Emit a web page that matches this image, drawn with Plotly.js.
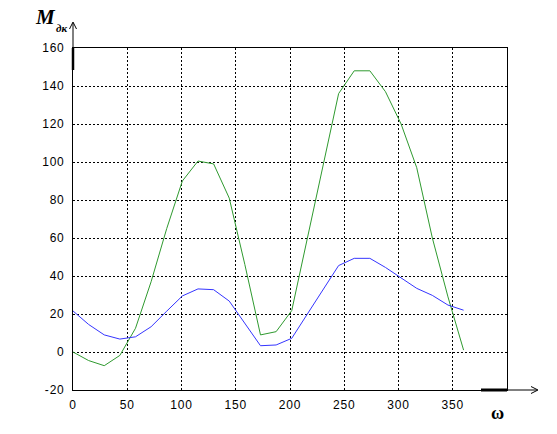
<!DOCTYPE html>
<html>
<head>
<meta charset="utf-8">
<script src="https://cdn.plot.ly/plotly-3.0.1.min.js"></script>
<style>
html,body{margin:0;padding:0;background:#fff;}
#chart{width:557px;height:434px;}
#chart .xtick text, #chart .ytick text{letter-spacing:0.8px;}
</style>
</head>
<body>
<div id="chart"></div>
<script>
// Angle values (ω)
const omega = [0, 14.4, 28.8, 43.2, 57.6, 72, 86.4, 100.8, 115.2, 129.6, 144, 158.4, 172.8,
               187.2, 201.6, 216, 230.4, 244.8, 259.2, 273.6, 288, 302.4, 316.8, 331.2, 345.6, 360];
// Green series
const greenSeries = [0, -4.5, -7.2, -1.8, 12.5, 37, 65, 90, 100.5, 99, 81, 46, 9,
                     10.7, 21.8, 60, 99, 136, 148, 148, 137, 120, 97, 60, 29, 1];
// Blue series
const blueSeries = [21.6, 14.5, 9, 6.8, 8, 13.3, 21.5, 29.5, 33.2, 32.8, 26.8, 15, 3.3,
                    3.7, 7.2, 20, 32.6, 45.5, 49.3, 49.3, 44.5, 39, 33.5, 29.8, 24.7, 22];
const xTicks = [0, 50, 100, 150, 200, 250, 300, 350];
const yTicks = [-20, 0, 20, 40, 60, 80, 100, 120, 140, 160];

const W = 557, H = 434, L = 73, R = 507, T = 48, B = 390;
const px = x => (x - L) / (R - L);
const py = y => (B - y) / (B - T);

const traces = [
  {x: omega, y: greenSeries, type: 'scatter', mode: 'lines',
   line: {color: '#2f9a2f', width: 1}, hoverinfo: 'skip'},
  {x: omega, y: blueSeries, type: 'scatter', mode: 'lines',
   line: {color: '#3535ff', width: 1}, hoverinfo: 'skip'}
];

const shapes = [
  // x axis extension with arrow
  {type: 'line', xref: 'paper', yref: 'paper', x0: px(507), x1: px(537), y0: py(390), y1: py(390), line: {color: '#000', width: 1}},
  {type: 'path', xref: 'paper', yref: 'paper',
   path: `M ${px(531)} ${py(386.5)} L ${px(538)} ${py(390)} L ${px(531)} ${py(393.5)}`, line: {color: '#000', width: 1}},
  // y axis extension with arrow
  {type: 'line', xref: 'paper', yref: 'paper', x0: px(73), x1: px(73), y0: py(48), y1: py(23), line: {color: '#000', width: 1}},
  {type: 'path', xref: 'paper', yref: 'paper',
   path: `M ${px(69.5)} ${py(29)} L ${px(73)} ${py(22)} L ${px(76.5)} ${py(29)}`, line: {color: '#000', width: 1}},
  // thick segments
  {type: 'line', xref: 'paper', yref: 'paper', x0: px(481), x1: px(507), y0: py(390), y1: py(390), line: {color: '#000', width: 3}},
  {type: 'line', xref: 'paper', yref: 'paper', x0: px(73), x1: px(73), y0: py(48), y1: py(70), line: {color: '#000', width: 2.5}}
];

const annotations = [
  {xref: 'paper', yref: 'paper', x: px(45.5), y: py(16.5), xanchor: 'center', yanchor: 'middle', showarrow: false,
   text: '<b><i>M</i></b>', font: {family: 'Liberation Serif', size: 21, color: '#000'}},
  {xref: 'paper', yref: 'paper', x: px(61.5), y: py(27.5), xanchor: 'center', yanchor: 'middle', showarrow: false,
   text: '<b><i>дк</i></b>', font: {family: 'Liberation Serif', size: 11, color: '#000'}},
  {xref: 'paper', yref: 'paper', x: px(497), y: py(413), xanchor: 'center', yanchor: 'middle', showarrow: false,
   text: '<b>ω</b>', font: {family: 'Liberation Serif', size: 18, color: '#000'}}
];

const layout = {
  width: W, height: H,
  margin: {l: L, r: W - R, t: T, b: H - B, pad: 0},
  paper_bgcolor: '#fff', plot_bgcolor: '#fff',
  showlegend: false,
  font: {family: 'Liberation Sans, Arial, sans-serif', size: 12, color: '#000'},
  xaxis: {
    range: [0, 400], tickvals: xTicks, ticktext: xTicks.map(String),
    showgrid: true, gridcolor: '#000', griddash: '2px,2px', gridwidth: 1,
    zeroline: false, showline: true, mirror: true, linecolor: '#000', linewidth: 1,
    ticks: '', ticklabelstandoff: 4, fixedrange: true
  },
  yaxis: {
    range: [-20, 160], tickvals: yTicks, ticktext: yTicks.map(String),
    showgrid: true, gridcolor: '#000', griddash: '2px,2px', gridwidth: 1,
    zeroline: false, showline: true, mirror: true, linecolor: '#000', linewidth: 1,
    ticks: '', ticklabelstandoff: 5, fixedrange: true
  },
  shapes: shapes,
  annotations: annotations
};

Plotly.newPlot('chart', traces, layout, {staticPlot: true, displayModeBar: false});
</script>
</body>
</html>
